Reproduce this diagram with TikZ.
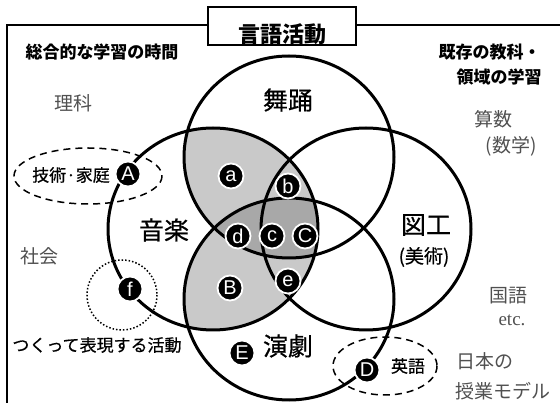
\documentclass[tikz,border=0pt]{standalone}
\usepackage{fontspec}
\setmainfont{Liberation Sans}
\newfontfamily\jpfont{Noto Sans CJK JP}
\newfontfamily\jpmid{Noto Sans CJK JP}[FakeBold=0.6]
\newfontfamily\etcfont{Liberation Serif}
\definecolor{shadeone}{RGB}{201,201,201}
\definecolor{shadetwo}{RGB}{168,168,168}
\definecolor{subjectgray}{RGB}{80,80,80}
\NewDocumentCommand\DrawLetter{mmm}%
{%
\node[letterdot] (#1) at (#2) {#3};%
}
\def\DanceArea{(289,157) ellipse [x radius=105,y radius=101]}
\def\MusicArea{(213,229) ellipse [x radius=105,y radius=101]}
\def\ArtArea{(366,229) ellipse [x radius=105,y radius=101]}
\def\DramaArea{(289,299) ellipse [x radius=105,y radius=101]}
\tikzset{
  letterdot/.style={circle,fill=black,draw=white,line width=1.8pt,inner sep=0pt,
    minimum size=25pt,text=white,font=\fontsize{20}{20}\selectfont},
  arealine/.style={black,line width=3pt},
  areaname/.style={font=\jpmid\fontsize{25}{25}\selectfont},
  boldnote/.style={font=\jpfont\bfseries\fontsize{17}{17}\selectfont},
  plainnote/.style={font=\jpmid\fontsize{17}{17}\selectfont},
  subject/.style={text=subjectgray,font=\jpfont\fontsize{19}{19}\selectfont},
}
\begin{document}
\begin{tikzpicture}[x=1pt,y=-1pt]
\useasboundingbox (0,0) rectangle (560,403);
\draw[line width=2pt] (7,403) -- (7,25) -- (560,25);
\node[draw,fill=white,line width=1.5pt,minimum width=148pt,minimum height=38pt,inner sep=0pt] (titlebox) at (282,26) {};
\node[font=\jpfont\bfseries\fontsize{22}{22}\selectfont] (title) at (282,34) {言語活動};
% shaded parts of the music circle
\begin{scope}
\clip \MusicArea;
\fill[shadeone] \DanceArea;
\fill[shadeone] \DramaArea;
\clip \DanceArea;
\fill[shadetwo] \DramaArea;
\end{scope}
\draw[line width=1.5pt,dash pattern=on 7pt off 5pt] (88,176) ellipse [x radius=74,y radius=28];
\draw[line width=1.5pt,dash pattern=on 7pt off 5pt] (385,366) ellipse [x radius=52,y radius=29];
\draw[line width=1.5pt,dotted] (122,295) circle (35);
\draw[arealine] \DanceArea;
\draw[arealine] \MusicArea;
\draw[arealine] \ArtArea;
\draw[arealine] \DramaArea;
\node[areaname] (dance) at (288,100) {舞踊};
\node[areaname] (music) at (164,230) {音楽};
\node[areaname] (art) at (426,225) {図工};
\node[plainnote,font=\jpmid\fontsize{19}{19}\selectfont] (artsub) at (424,257) {(美術)};
\node[areaname] (drama) at (288,346) {演劇};
\DrawLetter{la}{231,176}{a}
\DrawLetter{lb}{288,186}{b}
\DrawLetter{ld}{238,236}{d}
\DrawLetter{lc}{272,236}{c}
\DrawLetter{lC}{305,236}{C}
\DrawLetter{le}{288,281}{e}
\DrawLetter{lB}{230,288}{B}
\DrawLetter{lA}{128,174}{A}
\DrawLetter{lf}{130,289}{f}
\DrawLetter{lE}{242,353}{E}
\DrawLetter{lD}{367,370}{D}
\node[boldnote] (general) at (102,52) {総合的な学習の時間};
\node[boldnote,anchor=west] (existing) at (435,52) {既存の教科・};
\node[boldnote,anchor=west] (existingtwo) at (453,77) {領域の学習};
\node[plainnote] (tech) at (71,175) {技術·家庭};
\node[plainnote] (making) at (97,345) {つくって表現する活動};
\node[plainnote] (english) at (408,366) {英語};
\node[subject] (science) at (73,103) {理科};
\node[subject] (social) at (39,256) {社会};
\node[subject] (math) at (493,119) {算数};
\node[subject] (mathsub) at (511,146) {(数学)};
\node[subject] (japanese) at (508,296) {国語};
\node[subject,font=\etcfont\fontsize{19}{19}\selectfont] (etc) at (512,320) {etc.};
\node[subject,anchor=west] (model) at (453,361) {日本の};
\node[subject,anchor=west] (modeltwo) at (452,391) {授業モデル};
\end{tikzpicture}
\end{document}
